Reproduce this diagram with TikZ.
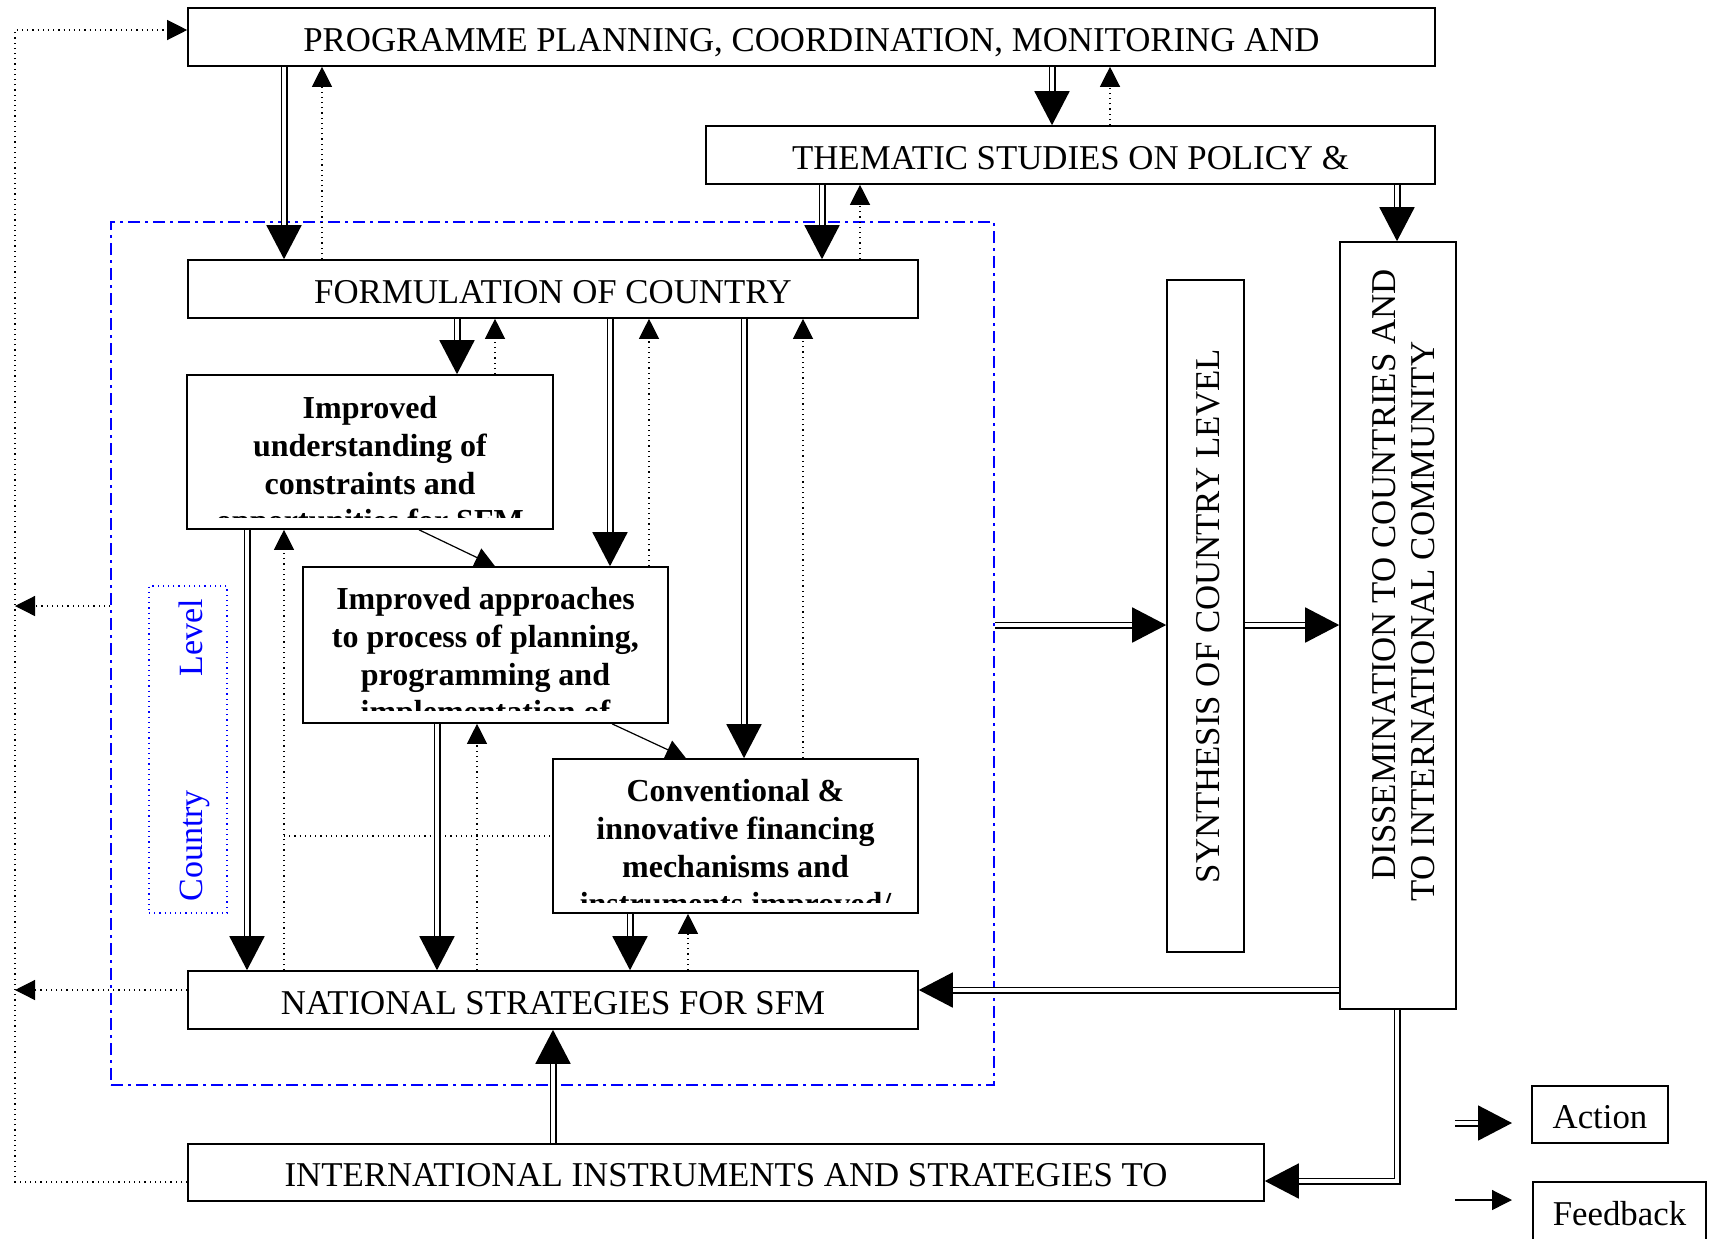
\documentclass[tikz,border=0pt]{standalone}
\usepackage{fontspec}
\setmainfont{Liberation Serif}
\usepackage{tikz}
\usetikzlibrary{arrows.meta}
\tikzset{box/.style={draw, line width=0.8pt, inner sep=0pt, align=center,
   text height=14.4pt, text depth=0pt, font=\fontsize{17.4}{20}\selectfont},
 goal/.style={draw, line width=0.8pt, inner sep=0pt},
 goaltext/.style={inner sep=0pt, align=center,
   font=\fontsize{16}{18.8}\selectfont\bfseries},
 vtext/.style={rotate=90, inner sep=0pt, font=\fontsize{17.4}{20}\selectfont},
 act/.style={double, double distance=1.8pt, line width=0.85pt,
   -{Triangle[length=17pt,width=17.5pt]}},
 fb/.style={dotted, line width=0.6pt, -{Triangle[length=10pt,width=10pt]}},
 fbline/.style={dotted, line width=0.6pt},
 link/.style={line width=0.6pt, -{Triangle[length=10pt,width=10pt]}},
 }
\begin{document}
\begin{tikzpicture}[x=0.5pt,y=-0.5pt]
        \useasboundingbox (0,0) rectangle (1714,1238);
        % country level frame
        \node[draw=blue, line width=0.8pt, dash pattern=on 6pt off 2.5pt on 1.5pt off 2.5pt,
          minimum width=441.5pt, minimum height=431.5pt, inner sep=0pt] (ctry) at (552.5,653.5) {};
        \node[draw=blue, dotted, line width=0.6pt, minimum width=39pt, minimum height=163.5pt,
          inner sep=0pt] (lvl) at (188,749.5) {};
        \node[rotate=90, anchor=west, inner sep=0pt, text=blue,
          font=\fontsize{17}{20}\selectfont] (lvltext) at (194,902) {Country\hspace{57pt}Level};

        \node[box, minimum width=623.5pt, minimum height=29pt] (prog) at (811.5,37)
          {PROGRAMME PLANNING, COORDINATION, MONITORING AND};
        \node[box, minimum width=364.5pt, minimum height=29pt] (them) at (1070.5,155)
          {THEMATIC STUDIES ON POLICY \&};
        \node[box, minimum width=365pt, minimum height=29pt] (form) at (553,289)
          {FORMULATION OF COUNTRY};
        \node[box, minimum width=365pt, minimum height=29pt] (nat) at (553,1000)
          {NATIONAL STRATEGIES FOR SFM};
        \node[box, minimum width=538pt, minimum height=28.5pt] (intl) at (726,1172.5)
          {INTERNATIONAL INSTRUMENTS AND STRATEGIES TO};

        % goal boxes (text cut off at the bottom)
        \node[goal, minimum width=183pt, minimum height=77pt] (und) at (370,452) {};
        \node[goal, minimum width=182.5pt, minimum height=78pt] (appr) at (485.5,645) {};
        \node[goal, minimum width=182.5pt, minimum height=77pt] (conv) at (735.5,836) {};
        \begin{scope}
          \clip (und.north west) rectangle ([yshift=6pt]und.south east);
          \node[goaltext, anchor=north] (undtext) at ([yshift=-11pt]und.north)
            {Improved\\understanding of\\constraints and\\opportunities for SFM};
        \end{scope}
        \begin{scope}
          \clip (appr.north west) rectangle ([yshift=6.5pt]appr.south east);
          \node[goaltext, anchor=north] (apprtext) at ([yshift=-10.5pt]appr.north)
            {Improved approaches\\to process of planning,\\programming and\\implementation of};
        \end{scope}
        \begin{scope}
          \clip (conv.north west) rectangle ([yshift=5.5pt]conv.south east);
          \node[goaltext, anchor=north] (convtext) at ([yshift=-10.5pt]conv.north)
            {Conventional \&\\innovative financing\\mechanisms and\\instruments improved/};
        \end{scope}

        % vertical boxes
        \node[goal, minimum width=38.5pt, minimum height=336pt] (syn) at (1205.5,616) {};
        \node[vtext] (syntext) at ([xshift=1.5pt]syn.center) {SYNTHESIS OF COUNTRY LEVEL};
        \node[goal, minimum width=58pt, minimum height=383.5pt] (diss) at (1398,625.5) {};
        \node[vtext, anchor=base west] (dissa) at (1395,881) {DISSEMINATION TO COUNTRIES AND};
        \node[vtext, anchor=base west] (dissb) at (1434,902) {TO INTERNATIONAL COMMUNITY};

        % legend
        \node[box, minimum width=68pt, minimum height=28.5pt] (actkey) at (1600,1114.5) {Action};
        \node[box, minimum width=86.5pt, minimum height=29pt] (fbkey) at (1619.5,1211) {Feedback};
        \coordinate (actfrom) at (1455,1123);
        \coordinate (actto) at (1512,1123);
        \coordinate (fbfrom) at (1455,1200);
        \coordinate (fbto) at (1512,1200);
        \draw[act] (actfrom) -- (actto);
        \draw[link] (fbfrom) -- (fbto);

        % actions and feedback, top part
        \draw[act] (284,0 |- prog.south) -- (284,0 |- form.north);
        \draw[fb] (322,0 |- form.north) -- (322,0 |- prog.south);
        \draw[act] (1052,0 |- prog.south) -- (1052,0 |- them.north);
        \draw[fb] (1110,0 |- them.north) -- (1110,0 |- prog.south);
        \draw[act] (822,0 |- them.south) -- (822,0 |- form.north);
        \draw[fb] (860,0 |- form.north) -- (860,0 |- them.south);
        \draw[act] (1397,0 |- them.south) -- (1397,0 |- diss.north);

        % formulation to the goals
        \draw[act] (457,0 |- form.south) -- (457,0 |- und.north);
        \draw[fb] (495,0 |- und.north) -- (495,0 |- form.south);
        \draw[act] (610,0 |- form.south) -- (610,0 |- appr.north);
        \draw[fb] (649,0 |- appr.north) -- (649,0 |- form.south);
        \draw[act] (744,0 |- form.south) -- (744,0 |- conv.north);
        \draw[fb] (803,0 |- conv.north) -- (803,0 |- form.south);
        \draw[link] (419,0 |- und.south) -- (495,0 |- appr.north);
        \draw[link] (612,0 |- appr.south) -- (686,0 |- conv.north);

        % goals to national strategies
        \draw[act] (247,0 |- und.south) -- (247,0 |- nat.north);
        \draw[fb] (284,0 |- nat.north) -- (284,0 |- und.south);
        \draw[fbline] (284,0 |- conv.west) -- (conv.west);
        \draw[act] (437,0 |- appr.south) -- (437,0 |- nat.north);
        \draw[fb] (477,0 |- nat.north) -- (477,0 |- appr.south);
        \draw[act] (630,0 |- conv.south) -- (630,0 |- nat.north);
        \draw[fb] (688,0 |- nat.north) -- (688,0 |- conv.south);
        \draw[act] (553,0 |- intl.north) -- (553,0 |- nat.south);

        % right side
        \draw[act] (ctry.east |- 0,625) -- (syn.west |- 0,625);
        \draw[act] (syn.east |- 0,625) -- (diss.west |- 0,625);
        \draw[act] (diss.west |- 0,990) -- (nat.east |- 0,990);
        \draw[act] (1397,0 |- diss.south) -- (1397,1181) -- (intl.east |- 0,1181);

        % feedback on the left
        \draw[fb] (intl.west |- 0,1182) -- (15,1182) -- (15,30) -- (prog.west |- 0,30);
        \draw[fb] (ctry.west |- 0,606) -- (15,606);
        \draw[fb] (nat.west |- 0,990) -- (15,990);
    \end{tikzpicture}
\end{document}
